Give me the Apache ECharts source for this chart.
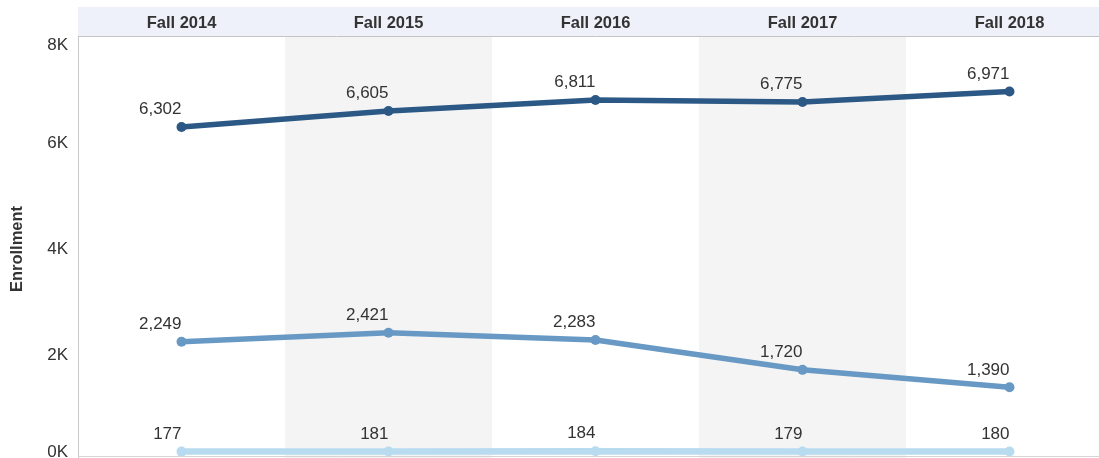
<!DOCTYPE html>
<html>
<head>
<meta charset="utf-8">
<script src="https://cdn.jsdelivr.net/npm/echarts@6/dist/echarts.min.js"></script>
<style>
  html, body { margin: 0; padding: 0; background: #fff; overflow: hidden; }
  /* the pane runs past the window edge, as in the source view */
  #chart { width: 1113px; height: 461px; }
</style>
</head>
<body>
<div id="chart"></div>
<script>
const terms = ['Fall 2014', 'Fall 2015', 'Fall 2016', 'Fall 2017', 'Fall 2018']
const seriesTop = [6302, 6605, 6811, 6775, 6971]
const seriesMid = [2249, 2421, 2283, 1720, 1390]
const seriesLow = [177, 181, 184, 179, 180]
const yTicks = [0, 2000, 4000, 6000, 8000]

const FONT = 'Arial, "Liberation Sans", sans-serif'

function fmt (v) {
  return String(v).replace(/\B(?=(\d{3})+(?!\d))/g, ',')
}

function line (name, data, color, width) {
  return {
    name: name,
    type: 'line',
    data: data,
    symbol: 'circle',
    symbolSize: 10,
    lineStyle: { color: color, width: width },
    itemStyle: { color: color },
    label: {
      show: true,
      position: 'top',
      align: 'right',
      distance: 4,
      fontFamily: FONT,
      fontSize: 17,
      color: '#333',
      formatter: p => fmt(p.value)
    },
    emphasis: { disabled: true },
    animation: false
  }
}

const chart = echarts.init(document.getElementById('chart'))
chart.setOption({
  animation: false,
  grid: { left: 78, right: 0, top: 37, bottom: 0 },
  graphic: [
    {
      type: 'rect',
      z: -10,
      shape: { x: 78, y: 7, width: 1035, height: 29 },
      style: { fill: '#eef1f9' }
    },
    {
      type: 'line',
      z: 10,
      shape: { x1: 78, y1: 36.5, x2: 1113, y2: 36.5 },
      style: { stroke: '#c4c4c4', lineWidth: 1 }
    },
    {
      type: 'line',
      z: 10,
      shape: { x1: 78, y1: 456.5, x2: 1113, y2: 456.5 },
      style: { stroke: '#d4d4d4', lineWidth: 1 }
    }
  ],
  xAxis: {
    type: 'category',
    data: terms,
    position: 'top',
    boundaryGap: true,
    axisLine: { show: false },
    axisTick: { show: false },
    axisLabel: {
      margin: 5,
      fontFamily: FONT,
      fontSize: 16.5,
      fontWeight: 'bold',
      color: '#333'
    },
    splitLine: { show: false },
    splitArea: {
      show: true,
      areaStyle: { color: ['rgba(255,255,255,0)', '#f4f4f4'] }
    }
  },
  yAxis: {
    type: 'value',
    min: yTicks[0],
    max: yTicks[yTicks.length - 1],
    interval: 2000,
    name: 'Enrollment',
    nameLocation: 'middle',
    nameRotate: 90,
    nameGap: 52,
    nameTextStyle: { fontFamily: FONT, fontSize: 16.5, fontWeight: 'bold', color: '#333' },
    axisLine: { show: true, lineStyle: { color: '#c8c8c8', width: 1 } },
    axisTick: { show: false },
    splitLine: { show: false },
    axisLabel: {
      margin: 10,
      fontFamily: FONT,
      fontSize: 17,
      color: '#333',
      verticalAlignMinLabel: 'bottom',
      verticalAlignMaxLabel: 'top',
      formatter: v => (v / 1000) + 'K'
    }
  },
  series: [
    line('Low', seriesLow, '#b8dbf0', 6.5),
    line('Mid', seriesMid, '#6899c4', 5.5),
    line('Top', seriesTop, '#2b5885', 5.5)
  ]
})
</script>
</body>
</html>
